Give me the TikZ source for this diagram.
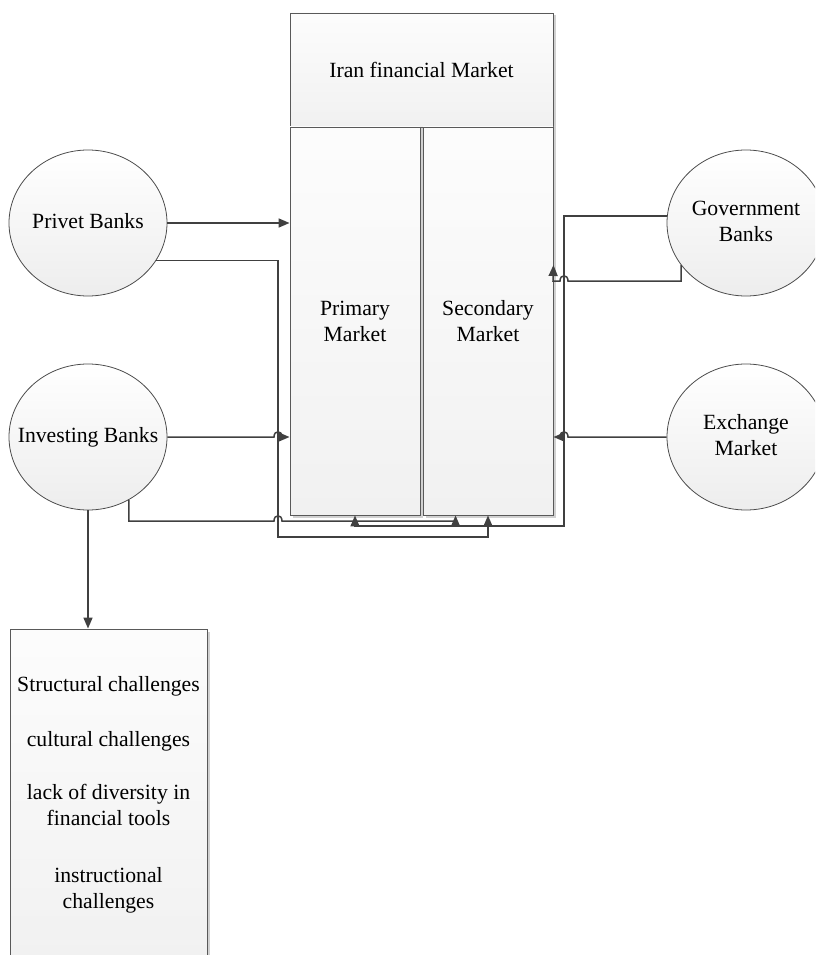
\documentclass[tikz,border=0pt]{standalone}
\usepackage{fontspec}
\setmainfont{Liberation Serif}
\usetikzlibrary{arrows.meta,shapes.geometric,shadows,calc}
\newcommand\zerowide[1]{\makebox[0pt]{\raisebox{-2.5pt}{\begin{tabular}{@{}c@{}}#1\end{tabular}}}}
\begin{document}
\begin{tikzpicture}[x=1pt,y=-1pt,
  every node/.style={font=\fontsize{21.7}{26}\selectfont},
  box/.style={draw=gray!70!black, line width=0.9pt, rectangle, inner sep=0pt,
    top color=gray!2, bottom color=gray!11, align=center,
    drop shadow={shadow xshift=2.5pt, shadow yshift=-2.5pt, fill=gray!60, opacity=0.6}},
  bank/.style={draw=gray!60!black, line width=0.8pt, ellipse, minimum width=158pt,
    minimum height=146pt, inner sep=0pt, top color=white, bottom color=gray!14},
  conn/.style={draw=black!75, line width=1.5pt},
  arr/.style={conn, -{Triangle[length=11pt,width=9pt]}},
]
\useasboundingbox (0,0) rectangle (815,955);
\clip (0,0) rectangle (815,955);

% central market
\node[box, minimum width=263pt, minimum height=114pt] (iran) at (421.5,70) {Iran financial Market};
\node[box, minimum width=130pt, minimum height=388pt] (primary) at (355,321) {Primary\\Market};
\node[box, minimum width=130pt, minimum height=388pt] (secondary) at (488,321) {Secondary\\Market};

% banks
\node[bank] (privet) at (88,223) {\zerowide{Privet Banks}};
\node[bank] (investing) at (88,437) {\zerowide{Investing Banks}};
\node[bank] (gov) at (746,223) {\zerowide{Government\\Banks}};
\node[bank] (exch) at (746,437) {\zerowide{Exchange\\Market}};

% challenges
\node[box, minimum width=197pt, minimum height=331pt] (chal) at (108.5,794.5)
  {Structural challenges\\[29pt]cultural challenges\\[27pt]lack of diversity in\\financial tools\\[31pt]instructional\\challenges};

% connectors
\draw[arr] (privet.east) -- (primary.west |- privet.east);
\draw[arr] (privet.-29) -| (278,537) -| (secondary.south);
\draw[arr] (investing.east) -- (274,437) .. controls (274,430) and (282,430) .. (282,437) -- (primary.west |- investing.east);
\draw[arr] (investing.-57) |- (274,521) .. controls (274,514) and (282,514) .. (282,521) -| ([xshift=33pt]secondary.south west);
\draw[arr] (gov.175) -| (564,526) -| (primary.south);
\draw[arr] (gov.213) |- (568,281) .. controls (568,274) and (560,274) .. (560,281) -- (553,281) -- ([yshift=56pt]secondary.east);
\draw[arr] (exch.west) -- (568,437) .. controls (568,430) and (560,430) .. (560,437) -- (secondary.east |- exch.west);
\draw[arr] (investing.south) -- (investing.south |- chal.north);
\end{tikzpicture}
\end{document}
